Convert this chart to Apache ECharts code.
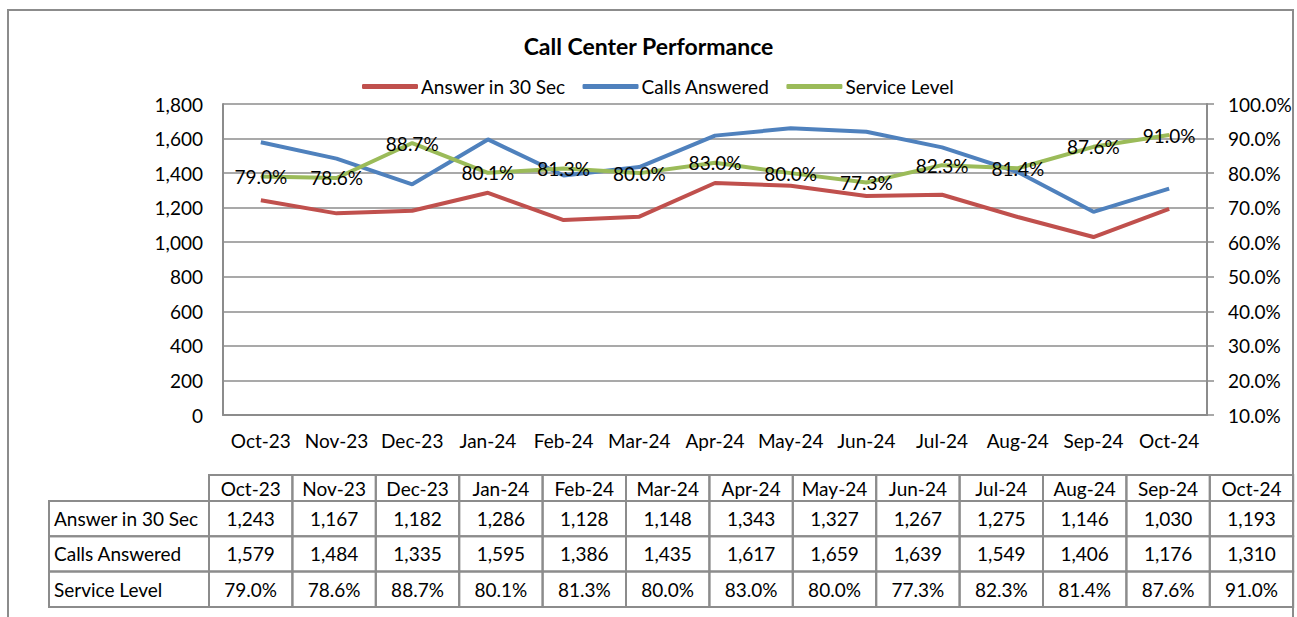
<!DOCTYPE html>
<html>
<head>
<meta charset="utf-8">
<script src="https://cdn.jsdelivr.net/npm/echarts@6/dist/echarts.min.js"></script>
<style>
  html, body { margin: 0; padding: 0; background: #fff; }
  #chart { width: 1297px; height: 617px; }
</style>
</head>
<body>
<div id="chart"></div>
<script>
// ---- data ----
const chartTitle = 'Call Center Performance';
const months = ['Oct-23','Nov-23','Dec-23','Jan-24','Feb-24','Mar-24','Apr-24','May-24','Jun-24','Jul-24','Aug-24','Sep-24','Oct-24'];
const seriesNames = ['Answer in 30 Sec', 'Calls Answered', 'Service Level'];
const answer30 = [1243, 1167, 1182, 1286, 1128, 1148, 1343, 1327, 1267, 1275, 1146, 1030, 1193];
const callsAnswered = [1579, 1484, 1335, 1595, 1386, 1435, 1617, 1659, 1639, 1549, 1406, 1176, 1310];
const serviceLevel = [79.0, 78.6, 88.7, 80.1, 81.3, 80.0, 83.0, 80.0, 77.3, 82.3, 81.4, 87.6, 91.0];
const leftTicks = { min: 0, max: 1800, interval: 200 };
const rightTicks = { min: 10, max: 100, interval: 10 };

// ---- style ----
const FONT = 'Lato';
const FS = 19;
const colors = ['#C0504D', '#4F81BD', '#9BBB59'];
const gridColor = '#8c8c8c';
const fmtNum = v => Number(v).toLocaleString('en-US');
const fmtPct = v => Number(v).toFixed(1) + '%';

const chart = echarts.init(document.getElementById('chart'), null, { renderer: 'svg' });

// ---- data table (graphic) ----
const tbl = { left: 49, labelW: 160, colW: 83.4, top: 475, headH: 26, rowH: 35.3 };
const tableRows = [answer30.map(fmtNum), callsAnswered.map(fmtNum), serviceLevel.map(fmtPct)];
const graphics = [];
const cellStyle = { fill: 'none', stroke: gridColor, lineWidth: 2 };
const textStyleBase = { font: FS + 'px ' + FONT, fill: '#000', textVerticalAlign: 'middle' };
months.forEach((m, i) => {
  const x = tbl.left + tbl.labelW + i * tbl.colW;
  graphics.push({ type: 'rect', shape: { x: x, y: tbl.top, width: tbl.colW, height: tbl.headH }, style: cellStyle, silent: true });
  graphics.push({ type: 'text', x: x + tbl.colW / 2, y: tbl.top + tbl.headH / 2, style: Object.assign({ text: m, textAlign: 'center' }, textStyleBase), silent: true });
});
tableRows.forEach((row, r) => {
  const y = tbl.top + tbl.headH + r * tbl.rowH;
  graphics.push({ type: 'rect', shape: { x: tbl.left, y: y, width: tbl.labelW, height: tbl.rowH }, style: cellStyle, silent: true });
  graphics.push({ type: 'text', x: tbl.left + 5, y: y + tbl.rowH / 2, style: Object.assign({ text: seriesNames[r], textAlign: 'left' }, textStyleBase), silent: true });
  row.forEach((v, i) => {
    const x = tbl.left + tbl.labelW + i * tbl.colW;
    graphics.push({ type: 'rect', shape: { x: x, y: y, width: tbl.colW, height: tbl.rowH }, style: cellStyle, silent: true });
    graphics.push({ type: 'text', x: x + tbl.colW / 2, y: y + tbl.rowH / 2, style: Object.assign({ text: v, textAlign: 'center' }, textStyleBase), silent: true });
  });
});
graphics.push({ type: 'rect', z: -10, shape: { x: 8, y: 10, width: 1285, height: 700 }, style: { fill: 'none', stroke: gridColor, lineWidth: 2 }, silent: true });

const axisLabelStyle = { color: '#000', fontFamily: FONT, fontSize: FS };

chart.setOption({
  animation: false,
  backgroundColor: '#fff',
  textStyle: { fontFamily: FONT },
  title: {
    text: chartTitle,
    left: 'center',
    top: 29,
    textStyle: { fontFamily: FONT, fontSize: 23, fontWeight: 'bold', color: '#000' }
  },
  legend: {
    data: seriesNames,
    left: 357,
    top: 72,
    icon: 'roundRect',
    itemWidth: 56,
    itemHeight: 5,
    itemGap: 17,
    textStyle: { fontFamily: FONT, fontSize: FS, color: '#000', padding: [0, 0, 0, -2] }
  },
  grid: { left: 223, right: 90, top: 104, bottom: 202, containLabel: false },
  xAxis: {
    type: 'category',
    data: months,
    boundaryGap: true,
    axisLine: { show: true, lineStyle: { color: gridColor, width: 2 } },
    axisTick: { show: false },
    axisLabel: Object.assign({ margin: 16, interval: 0 }, axisLabelStyle),
    splitLine: { show: false }
  },
  yAxis: [
    {
      type: 'value',
      min: leftTicks.min, max: leftTicks.max, interval: leftTicks.interval,
      axisLine: { show: true, lineStyle: { color: gridColor, width: 2 } },
      axisTick: { show: false },
      axisLabel: Object.assign({ margin: 20, formatter: v => fmtNum(v) }, axisLabelStyle),
      splitLine: { show: true, lineStyle: { color: gridColor, width: 1.5 } }
    },
    {
      type: 'value',
      position: 'right',
      min: rightTicks.min, max: rightTicks.max, interval: rightTicks.interval,
      axisLine: { show: true, lineStyle: { color: gridColor, width: 2 } },
      axisTick: { show: true, inside: false, length: 7, lineStyle: { color: gridColor, width: 1.5 } },
      axisLabel: Object.assign({ margin: 21, formatter: v => fmtPct(v) }, axisLabelStyle),
      splitLine: { show: false }
    }
  ],
  series: [
    {
      name: seriesNames[0], type: 'line', yAxisIndex: 0, data: answer30,
      symbol: 'none', lineStyle: { color: colors[0], width: 4 }, itemStyle: { color: colors[0] }, z: 2
    },
    {
      name: seriesNames[1], type: 'line', yAxisIndex: 0, data: callsAnswered,
      symbol: 'none', lineStyle: { color: colors[1], width: 4 }, itemStyle: { color: colors[1] }, z: 3
    },
    {
      name: seriesNames[2], type: 'line', yAxisIndex: 1, data: serviceLevel,
      symbol: 'circle', symbolSize: 1, showSymbol: true,
      lineStyle: { color: colors[2], width: 4 }, itemStyle: { color: colors[2] }, z: 4,
      label: { show: true, position: 'inside', formatter: p => fmtPct(p.value), color: '#000', fontFamily: FONT, fontSize: FS }
    }
  ],
  graphic: graphics
});
</script>
</body>
</html>
